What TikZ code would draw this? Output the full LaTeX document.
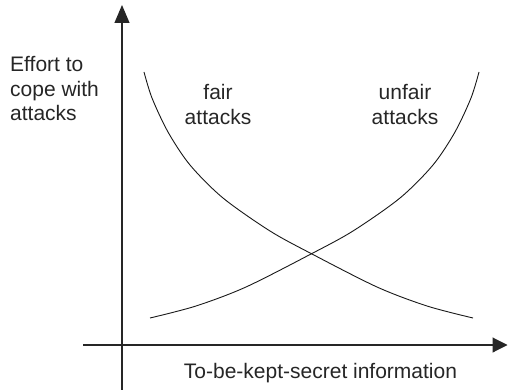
\documentclass[tikz,border=0pt]{standalone}
\usepackage{fontspec}
\setmainfont{Liberation Sans}
\usetikzlibrary{arrows.meta}
\begin{document}
\begin{tikzpicture}[x=1pt,y=-1pt,
  axis/.style={line width=1.1pt, draw=black!85},
  curve/.style={line width=0.9pt, draw=black!90},
  lbl/.style={font=\fontsize{21}{24.5}\selectfont, inner sep=0pt, text=black!85}]
\useasboundingbox (0,0) rectangle (508,390);
\coordinate (yb) at (122,390);
\coordinate (yt) at (122,5);
\coordinate (xl) at (83,345);
\coordinate (xr) at (507.5,345);
\draw[axis,-{Triangle[length=18pt,width=15pt]}] (yb) -- (yt);
\draw[axis,-{Triangle[length=15pt,width=15pt]}] (xl) -- (xr);
\draw[curve] plot[smooth] coordinates {(144,72) (152,98) (168,132) (190,165) (223,198) (270,231) (312,254) (377,287) (427,306) (473,318)};
\draw[curve] plot[smooth] coordinates {(150,318) (196,306) (246,287) (311,254) (353,231) (400,198) (433,165) (455,132) (471,98) (479,72)};
\node[lbl, align=left, anchor=base west] (ylabel) at (10,121) {Effort to\\cope with\\attacks};
\node[lbl, align=center, anchor=base] (fair) at (218,124.5) {fair\\attacks};
\node[lbl, align=center, anchor=base] (unfair) at (405,124.5) {unfair\\attacks};
\node[lbl, anchor=base] (xlabel) at (320.5,378) {To-be-kept-secret information};
\end{tikzpicture}
\end{document}
